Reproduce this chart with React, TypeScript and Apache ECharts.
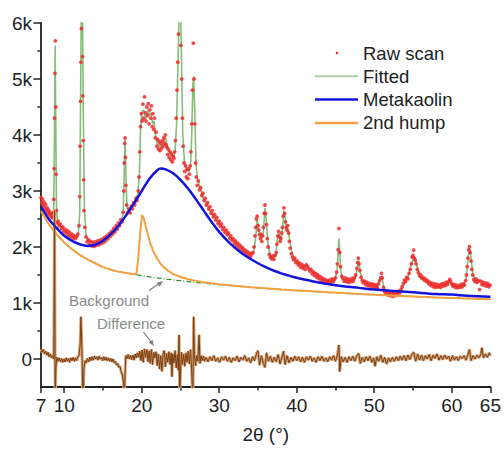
import React, { useEffect, useRef } from "react";
import * as echarts from "echarts";

const FONT = '"Liberation Sans", Arial, sans-serif';

const xTickValues = [7, 10, 20, 30, 40, 50, 60, 65];
const xMinorTicks = [15, 25, 35, 45, 55];
const yTickValues = [0, 1000, 2000, 3000, 4000, 5000, 6000];
const yMinorTicks = [500, 1500, 2500, 3500, 4500, 5500];

const rawScan: number[][] = [
  [7.0, 2880], [7.1, 2790], [7.2, 2850], [7.3, 2740], [7.4, 2800], [7.5, 2690], [7.6, 2760], [7.7, 2650], [7.8, 2700], [7.9, 2610],
  [8.0, 2660], [8.1, 2580], [8.2, 2620], [8.3, 2540], [8.4, 2590], [8.5, 2520], [8.6, 2610], [8.65, 2850], [8.7, 3400], [8.75, 4300],
  [8.8, 5100], [8.85, 5680], [8.9, 4500], [8.95, 3300], [9.0, 2650], [9.1, 2430], [9.2, 2460], [9.35, 2380], [9.5, 2410], [9.65, 2330],
  [9.8, 2360], [9.95, 2280], [10.1, 2320], [10.25, 2250], [10.4, 2290], [10.55, 2210], [10.7, 2260], [10.85, 2180], [11.0, 2230], [11.15, 2160],
  [11.3, 2200], [11.45, 2150], [11.6, 2190], [11.75, 2230], [11.9, 2380], [12.0, 2900], [12.05, 3800], [12.1, 4600], [12.15, 5300], [12.2, 5900],
  [12.25, 6200], [12.3, 6250], [12.35, 5400], [12.4, 4700], [12.45, 3900], [12.5, 3200], [12.55, 2650], [12.65, 2350], [12.8, 2180], [12.95, 2090],
  [13.1, 2130], [13.25, 2040], [13.4, 2100], [13.55, 2020], [13.7, 2080], [13.85, 2010], [14.0, 2090], [14.15, 2030], [14.3, 2110], [14.45, 2040],
  [14.6, 2120], [14.75, 2060], [14.9, 2140], [15.05, 2080], [15.2, 2170], [15.35, 2110], [15.5, 2200], [15.65, 2150], [15.8, 2240], [15.95, 2190],
  [16.1, 2280], [16.25, 2230], [16.4, 2330], [16.55, 2270], [16.7, 2380], [16.85, 2320], [17.0, 2430], [17.15, 2380], [17.3, 2490], [17.45, 2450],
  [17.6, 2620], [17.7, 3000], [17.75, 3500], [17.8, 3850], [17.85, 3950], [17.9, 3600], [17.95, 3100], [18.05, 2750], [18.2, 2620], [18.35, 2680],
  [18.5, 2610], [18.65, 2730], [18.8, 2680], [18.95, 2790], [19.1, 2750], [19.25, 2870], [19.4, 2830], [19.55, 3000], [19.65, 3250], [19.75, 3700],
  [19.85, 4150], [19.95, 4380], [20.05, 4250], [20.15, 4550], [20.25, 4300], [20.35, 4680], [20.45, 4400], [20.55, 4250], [20.65, 4500], [20.75, 4350],
  [20.85, 4560], [20.95, 4200], [21.05, 4450], [21.15, 4300], [21.25, 4520], [21.35, 4150], [21.45, 4380], [21.55, 4100], [21.65, 4300], [21.75, 3950],
  [21.85, 4050], [21.95, 3800], [22.05, 3920], [22.15, 3750], [22.25, 3880], [22.35, 3720], [22.45, 3850], [22.55, 3760], [22.65, 3900], [22.75, 3800],
  [22.85, 3950], [22.95, 3850], [23.05, 4000], [23.15, 3820], [23.25, 3780], [23.35, 3650], [23.45, 3740], [23.55, 3600], [23.65, 3700], [23.75, 3560],
  [23.85, 3660], [23.95, 3520], [24.05, 3620], [24.15, 3580], [24.25, 3700], [24.35, 3900], [24.45, 4300], [24.55, 4800], [24.65, 5300], [24.75, 5800],
  [24.85, 6300], [24.95, 6300], [25.05, 5600], [25.15, 5000], [25.25, 4300], [25.35, 3800], [25.45, 3500], [25.55, 3350], [25.65, 3450], [25.75, 3250],
  [25.85, 3380], [25.95, 3220], [26.05, 3400], [26.15, 3300], [26.25, 3450], [26.35, 3700], [26.45, 4200], [26.55, 4800], [26.65, 5640], [26.75, 5000],
  [26.85, 4200], [26.95, 3500], [27.05, 3250], [27.15, 3100], [27.3, 3180], [27.45, 3020], [27.6, 3060], [27.75, 2920], [27.9, 2960], [28.05, 2830],
  [28.2, 2870], [28.35, 2750], [28.5, 2790], [28.65, 2680], [28.8, 2720], [28.95, 2600], [29.1, 2650], [29.25, 2540], [29.4, 2580], [29.55, 2480],
  [29.7, 2530], [29.85, 2420], [30.0, 2460], [30.15, 2370], [30.3, 2410], [30.45, 2310], [30.6, 2350], [30.75, 2260], [30.9, 2300], [31.05, 2220],
  [31.2, 2250], [31.35, 2160], [31.5, 2200], [31.65, 2120], [31.8, 2150], [31.95, 2070], [32.1, 2110], [32.25, 2030], [32.4, 2070], [32.55, 1990],
  [32.7, 2030], [32.85, 1950], [33.0, 1990], [33.15, 1910], [33.3, 1950], [33.45, 1880], [33.6, 1920], [33.75, 1840], [33.9, 1890], [34.05, 1830],
  [34.2, 1880], [34.35, 1900], [34.5, 2000], [34.6, 2200], [34.7, 2350], [34.8, 2500], [34.9, 2550], [35.0, 2380], [35.1, 2300], [35.2, 2220],
  [35.3, 2150], [35.4, 2230], [35.5, 2100], [35.6, 2200], [35.7, 2350], [35.8, 2600], [35.9, 2750], [36.0, 2600], [36.1, 2400], [36.2, 2150],
  [36.3, 2000], [36.45, 1870], [36.6, 1820], [36.75, 1790], [36.9, 1840], [37.05, 1780], [37.2, 1850], [37.35, 1900], [37.45, 2050], [37.55, 2200],
  [37.65, 2280], [37.75, 2180], [37.85, 2100], [37.95, 2150], [38.05, 2250], [38.15, 2350], [38.25, 2550], [38.35, 2700], [38.45, 2600], [38.55, 2450],
  [38.65, 2350], [38.75, 2300], [38.85, 2380], [38.95, 2250], [39.05, 2100], [39.15, 1980], [39.3, 1880], [39.45, 1820], [39.6, 1770], [39.75, 1800],
  [39.9, 1720], [40.05, 1750], [40.2, 1680], [40.35, 1710], [40.5, 1640], [40.65, 1690], [40.8, 1620], [40.95, 1660], [41.1, 1600], [41.25, 1680],
  [41.4, 1650], [41.55, 1610], [41.7, 1570], [41.85, 1600], [42.0, 1520], [42.15, 1560], [42.3, 1490], [42.45, 1530], [42.6, 1460], [42.75, 1500],
  [42.9, 1430], [43.05, 1470], [43.2, 1400], [43.35, 1440], [43.5, 1380], [43.65, 1420], [43.8, 1360], [43.95, 1400], [44.1, 1350], [44.25, 1410],
  [44.4, 1370], [44.55, 1430], [44.7, 1380], [44.85, 1420], [45.0, 1450], [45.15, 1550], [45.25, 1700], [45.35, 1950], [45.45, 2330], [45.55, 1900],
  [45.65, 1650], [45.8, 1480], [45.95, 1440], [46.1, 1390], [46.25, 1450], [46.4, 1380], [46.55, 1430], [46.7, 1370], [46.85, 1420], [47.0, 1380],
  [47.15, 1440], [47.3, 1390], [47.45, 1450], [47.6, 1500], [47.75, 1620], [47.85, 1720], [47.95, 1800], [48.05, 1700], [48.15, 1580], [48.3, 1460],
  [48.45, 1400], [48.6, 1360], [48.75, 1390], [48.9, 1330], [49.05, 1370], [49.2, 1310], [49.35, 1350], [49.5, 1300], [49.65, 1340], [49.8, 1290],
  [49.95, 1330], [50.1, 1280], [50.25, 1320], [50.4, 1270], [50.55, 1340], [50.7, 1400], [50.85, 1450], [50.95, 1530], [51.05, 1450], [51.2, 1280],
  [51.35, 1200], [51.5, 1170], [51.65, 1210], [51.8, 1140], [51.95, 1190], [52.1, 1130], [52.25, 1180], [52.4, 1120], [52.55, 1170], [52.7, 1130],
  [52.85, 1190], [53.0, 1150], [53.15, 1210], [53.3, 1180], [53.45, 1240], [53.6, 1290], [53.75, 1350], [53.9, 1410], [54.05, 1380], [54.2, 1460],
  [54.35, 1430], [54.5, 1530], [54.65, 1600], [54.8, 1700], [54.9, 1820], [55.0, 1850], [55.1, 1946], [55.2, 1800], [55.3, 1760], [55.4, 1700],
  [55.55, 1600], [55.7, 1540], [55.85, 1480], [56.0, 1500], [56.15, 1440], [56.3, 1460], [56.45, 1410], [56.6, 1430], [56.75, 1380], [56.9, 1400],
  [57.05, 1340], [57.2, 1370], [57.35, 1310], [57.5, 1350], [57.65, 1290], [57.8, 1340], [57.95, 1280], [58.1, 1330], [58.25, 1290], [58.4, 1320],
  [58.55, 1280], [58.7, 1340], [58.85, 1300], [59.0, 1350], [59.15, 1310], [59.3, 1370], [59.45, 1330], [59.6, 1380], [59.75, 1420], [59.85, 1390],
  [60.0, 1340], [60.15, 1300], [60.3, 1330], [60.45, 1280], [60.6, 1320], [60.75, 1270], [60.9, 1310], [61.05, 1280], [61.2, 1330], [61.35, 1290],
  [61.5, 1340], [61.65, 1320], [61.8, 1400], [61.9, 1500], [62.0, 1650], [62.1, 1800], [62.2, 1950], [62.3, 2005], [62.4, 1900], [62.5, 1750],
  [62.6, 1600], [62.7, 1500], [62.85, 1420], [63.0, 1380], [63.15, 1430], [63.3, 1370], [63.45, 1400], [63.6, 1240], [63.75, 1390], [63.9, 1330],
  [64.05, 1370], [64.2, 1320], [64.35, 1360], [64.5, 1300], [64.65, 1350], [64.8, 1290], [64.95, 1320],
];

const fitted: number[][] = [
  [7.0, 2820], [7.3, 2760], [7.6, 2700], [8.0, 2620], [8.3, 2560], [8.5, 2540], [8.65, 2700], [8.75, 4200], [8.83, 5600], [8.9, 4300],
  [9.0, 2700], [9.15, 2420], [9.5, 2370], [10.0, 2300], [10.5, 2240], [11.0, 2190], [11.5, 2170], [11.8, 2200], [12.0, 2600], [12.1, 4500],
  [12.2, 6300], [12.35, 6300], [12.45, 4500], [12.6, 2700], [12.8, 2250], [13.0, 2120], [13.5, 2080], [14.0, 2070], [14.5, 2080], [15.0, 2110],
  [15.5, 2160], [16.0, 2230], [16.5, 2300], [17.0, 2400], [17.4, 2480], [17.6, 2600], [17.75, 3400], [17.85, 3950], [17.95, 3300], [18.1, 2700],
  [18.4, 2640], [18.8, 2720], [19.2, 2840], [19.5, 2950], [19.7, 3300], [19.85, 4100], [20.0, 4400], [20.2, 4450], [20.4, 4350], [20.6, 4300],
  [20.8, 4450], [21.0, 4350], [21.2, 4400], [21.4, 4200], [21.6, 4250], [21.8, 3950], [22.0, 3850], [22.3, 3800], [22.6, 3820], [22.9, 3900],
  [23.1, 3950], [23.3, 3800], [23.6, 3700], [23.9, 3650], [24.1, 3600], [24.3, 3700], [24.5, 4200], [24.7, 5400], [24.85, 6400], [25.0, 6400],
  [25.15, 5200], [25.3, 4000], [25.5, 3550], [25.8, 3380], [26.1, 3350], [26.3, 3450], [26.45, 4000], [26.6, 4900], [26.7, 5050], [26.85, 4400],
  [27.0, 3500], [27.2, 3200], [27.5, 3080], [28.0, 2850], [28.5, 2720], [29.0, 2600], [29.5, 2520], [30.0, 2420], [30.5, 2320], [31.0, 2250],
  [31.5, 2170], [32.0, 2100], [32.5, 2040], [33.0, 1980], [33.5, 1920], [34.0, 1870], [34.4, 1880], [34.7, 2150], [34.9, 2480], [35.1, 2300],
  [35.3, 2200], [35.5, 2150], [35.7, 2250], [35.9, 2700], [36.05, 2500], [36.3, 2050], [36.6, 1830], [37.0, 1800], [37.3, 1850], [37.5, 2150],
  [37.7, 2250], [37.9, 2100], [38.1, 2200], [38.35, 2650], [38.5, 2550], [38.7, 2300], [38.9, 2330], [39.1, 2100], [39.4, 1900], [39.7, 1780],
  [40.0, 1720], [40.5, 1680], [41.0, 1640], [41.4, 1660], [41.8, 1580], [42.3, 1520], [42.8, 1480], [43.3, 1430], [43.8, 1400], [44.3, 1390],
  [44.8, 1400], [45.2, 1550], [45.45, 2150], [45.7, 1550], [46.0, 1430], [46.5, 1400], [47.0, 1390], [47.5, 1420], [47.8, 1600], [48.0, 1760],
  [48.2, 1550], [48.5, 1400], [49.0, 1360], [49.5, 1330], [50.0, 1320], [50.5, 1300], [50.8, 1450], [51.0, 1480], [51.2, 1300], [51.6, 1200],
  [52.0, 1170], [52.5, 1160], [53.0, 1170], [53.5, 1220], [54.0, 1380], [54.4, 1480], [54.8, 1700], [55.1, 1820], [55.4, 1720], [55.7, 1560],
  [56.0, 1470], [56.5, 1420], [57.0, 1370], [57.5, 1330], [58.0, 1310], [58.5, 1300], [59.0, 1320], [59.5, 1340], [59.8, 1400], [60.1, 1330],
  [60.5, 1300], [61.0, 1290], [61.5, 1300], [61.9, 1450], [62.1, 1800], [62.3, 1980], [62.5, 1800], [62.7, 1550], [63.0, 1420], [63.5, 1390],
  [64.0, 1350], [64.5, 1330], [65.0, 1310],
];

const metakaolin: number[][] = [
  [7, 2720], [8, 2500], [9, 2340], [10, 2200], [11, 2110], [12, 2050], [13, 2020], [14, 2040], [15, 2110], [16, 2230],
  [17, 2380], [18, 2570], [19, 2780], [20, 3000], [21, 3220], [22, 3370], [22.5, 3400], [23, 3390], [24, 3320], [25, 3200],
  [26, 3040], [27, 2850], [28, 2650], [29, 2450], [30, 2270], [31, 2120], [32, 1990], [33, 1880], [34, 1790], [35, 1710],
  [36, 1640], [37, 1580], [38, 1530], [40, 1450], [42, 1390], [44, 1340], [46, 1300], [48, 1270], [50, 1240], [52, 1220],
  [55, 1190], [58, 1160], [60, 1150], [62, 1130], [65, 1110],
];

const secondHump: number[][] = [
  [7, 2640], [8, 2410], [9, 2230], [10, 2080], [11, 1960], [12, 1860], [13, 1780], [14, 1710], [15, 1640], [16, 1595],
  [17, 1560], [18, 1535], [19, 1515], [19.3, 1508], [19.55, 1800], [19.8, 2250], [20.05, 2570], [20.25, 2520], [20.5, 2380], [20.8, 2220],
  [21.1, 2070], [21.5, 1920], [22, 1790], [22.5, 1690], [23, 1620], [23.5, 1565], [24, 1525], [25, 1465], [26, 1425], [27, 1395],
  [28, 1372], [29, 1352], [30, 1336], [32, 1308], [34, 1283], [36, 1262], [38, 1243], [40, 1225], [42, 1208], [44, 1192],
  [46, 1177], [48, 1162], [50, 1148], [52, 1136], [55, 1118], [58, 1100], [61, 1085], [65, 1065],
];

const background: number[][] = [
  [7, 2640], [8, 2410], [9, 2230], [10, 2080], [11, 1960], [12, 1860], [13, 1780], [14, 1710], [15, 1640], [16, 1595],
  [17, 1560], [18, 1535], [19, 1515], [20, 1490], [21, 1468], [22, 1448], [23, 1430], [24, 1413], [25, 1398], [26, 1383],
  [27, 1368], [28, 1354], [29, 1341], [30, 1328], [32, 1304], [34, 1281], [36, 1260], [38, 1241], [40, 1223], [42, 1206],
  [44, 1190], [46, 1175], [48, 1160], [50, 1147], [52, 1135], [55, 1117], [58, 1100], [61, 1085], [65, 1064],
];

const difference: number[][] = [
  [7.0, 180], [7.15, 120], [7.3, 170], [7.45, 90], [7.6, 140], [7.75, 70], [7.9, 120], [8.05, 40], [8.2, 90], [8.35, 20],
  [8.5, 60], [8.65, 0], [8.75, 2650], [8.83, -800], [8.92, -150], [9.05, 30], [9.2, -40], [9.35, 20], [9.5, -50], [9.65, 10],
  [9.8, -60], [9.95, 0], [10.1, -50], [10.25, 20], [10.4, -40], [10.55, 10], [10.7, -60], [10.85, 20], [11.0, -30], [11.15, 30],
  [11.3, -40], [11.45, 20], [11.6, -30], [11.75, 40], [11.9, 60], [12.05, 250], [12.15, 755], [12.28, 200], [12.42, -800], [12.55, -150],
  [12.7, -30], [12.85, -70], [13.0, 10], [13.15, -50], [13.3, 30], [13.45, -30], [13.6, 40], [13.75, -20], [13.9, 50], [14.05, 0],
  [14.2, 40], [14.35, -20], [14.5, 50], [14.65, 0], [14.8, 30], [14.95, -30], [15.1, 40], [15.25, -20], [15.4, 30], [15.55, -30],
  [15.7, 20], [15.85, -40], [16.0, 10], [16.15, -50], [16.3, 0], [16.45, -70], [16.6, -40], [16.75, -110], [16.9, -80], [17.05, -150],
  [17.2, -130], [17.35, -230], [17.5, -280], [17.65, -420], [17.75, -800], [17.85, -250], [17.95, 60], [18.1, 10], [18.25, 80], [18.4, 0],
  [18.55, 60], [18.7, -10], [18.85, 70], [19.0, -20], [19.15, 90], [19.3, 20], [19.45, 110], [19.6, 30], [19.75, 140], [19.9, -30],
  [20.05, 160], [20.2, -60], [20.35, 180], [20.5, 30], [20.65, 170], [20.8, -50], [20.95, 150], [21.1, -80], [21.25, 170], [21.4, -100],
  [21.55, 120], [21.7, 20], [21.85, 130], [22.0, -120], [22.15, 90], [22.3, -180], [22.45, 60], [22.6, -220], [22.75, 80], [22.9, 150],
  [23.05, -140], [23.2, 100], [23.35, -60], [23.5, 130], [23.65, -100], [23.8, 110], [23.9, -316], [24.0, 90], [24.15, -70], [24.3, 150],
  [24.45, -160], [24.6, 80], [24.72, -200], [24.82, 430], [24.9, -800], [25.0, -250], [25.12, 120], [25.25, -100], [25.4, 90], [25.55, -130],
  [25.7, 110], [25.85, -60], [26.0, 140], [26.15, -90], [26.3, 170], [26.45, -220], [26.6, -800], [26.7, 755], [26.8, 80], [26.95, -120],
  [27.1, 60], [27.25, -40], [27.4, 430], [27.52, -80], [27.65, 60], [27.8, -30], [27.95, 50], [28.1, -40], [28.3, 30], [28.55, -50],
  [28.8, 40], [29.05, -30], [29.3, 60], [29.55, -40], [29.8, 20], [30.05, -60], [30.3, 40], [30.55, -20], [30.8, 50], [31.05, -40],
  [31.3, 30], [31.55, -60], [31.8, 20], [32.05, -30], [32.3, 50], [32.55, -50], [32.8, 30], [33.05, -20], [33.3, 60], [33.55, -40],
  [33.8, 20], [34.05, -70], [34.3, 40], [34.55, -30], [34.8, 90], [35.0, 150], [35.2, -110], [35.45, 60], [35.7, -80], [35.9, -150],
  [36.1, 110], [36.35, -40], [36.6, 50], [36.85, -60], [37.1, 30], [37.35, -50], [37.6, 80], [37.85, -90], [38.1, 40], [38.3, 140],
  [38.5, -100], [38.75, 60], [39.0, -70], [39.25, 30], [39.5, -40], [39.75, 50], [40.0, -30], [40.25, 40], [40.5, -50], [40.75, 30],
  [41.0, -60], [41.25, 40], [41.5, -20], [41.75, 50], [42.0, -40], [42.25, 20], [42.5, -60], [42.75, 40], [43.0, -30], [43.25, 50],
  [43.5, -40], [43.75, 20], [44.0, -50], [44.25, 40], [44.5, -20], [44.75, 60], [45.0, -40], [45.25, 70], [45.45, 250], [45.55, -227],
  [45.75, 40], [46.0, -50], [46.25, 30], [46.5, -60], [46.75, 40], [47.0, -30], [47.25, 50], [47.5, -40], [47.75, 60], [48.0, 100],
  [48.2, -80], [48.45, 30], [48.7, -50], [48.95, 40], [49.2, -30], [49.45, 50], [49.7, -60], [49.95, 20], [50.1, -130], [50.35, 40],
  [50.6, -40], [50.85, 70], [51.1, -60], [51.35, 30], [51.6, -90], [51.85, 20], [52.1, -50], [52.35, 30], [52.6, -40], [52.85, 40],
  [53.1, -30], [53.35, 50], [53.6, -20], [53.85, 60], [54.1, -30], [54.35, 70], [54.6, -10], [54.85, 80], [55.1, 120], [55.35, -40],
  [55.6, 90], [55.85, -20], [56.1, 70], [56.35, -30], [56.6, 60], [56.85, 0], [57.1, 80], [57.35, -30], [57.6, 70], [57.85, 10],
  [58.1, 90], [58.35, -20], [58.6, 60], [58.85, -10], [59.1, 70], [59.35, 0], [59.6, 50], [59.85, -40], [60.1, 60], [60.35, -20],
  [60.6, 40], [60.85, -30], [61.1, 50], [61.35, 10], [61.6, 60], [61.85, -20], [62.1, 80], [62.3, 170], [62.5, -30], [62.75, 60],
  [63.0, 0], [63.25, 70], [63.5, 20], [63.75, 80], [63.9, 200], [64.1, 20], [64.35, 90], [64.6, 30], [64.85, 110], [65.0, 60],
];

const legendItems = [
  { name: "Raw scan", kind: "dot", color: "#e83030" },
  { name: "Fitted", kind: "line", color: "#a9d1a0" },
  { name: "Metakaolin", kind: "line", color: "#1414dc" },
  { name: "2nd hump", kind: "line", color: "#f4a040" },
];

export default function App() {
  const ref = useRef<HTMLDivElement>(null);
  useEffect(() => {
    if (!ref.current) return;
    const chart = echarts.init(ref.current, undefined, { renderer: "svg" });
    const axisColor = "#222";
    const legendGraphics: any[] = [];
    legendItems.forEach((it, i) => {
      const y = 53 + i * 23.3;
      if (it.kind === "dot") {
        legendGraphics.push({ type: "circle", shape: { cx: 337, cy: y, r: 1.3 }, style: { fill: it.color } });
      } else {
        legendGraphics.push({
          type: "line",
          shape: { x1: 315, y1: y, x2: 358, y2: y },
          style: { stroke: it.color, lineWidth: it.name === "Fitted" ? 2 : 2.5 },
        });
      }
      legendGraphics.push({
        type: "text",
        x: 363,
        y,
        style: { text: it.name, fontSize: 18.5, fontFamily: FONT, fill: "#222", verticalAlign: "middle", align: "left" },
      });
    });

    const annotations: any[] = [
      { type: "text", x: 69, y: 300, style: { text: "Background", fontSize: 15, fontFamily: FONT, fill: "#8a8a8a", verticalAlign: "middle" } },
      { type: "line", shape: { x1: 149, y1: 290.5, x2: 160, y2: 283 }, style: { stroke: "#808080", lineWidth: 1.2 } },
      { type: "polygon", shape: { points: [[163, 281], [159.8, 286.7], [156.8, 282.7]] }, style: { fill: "#808080" } },
      { type: "text", x: 97, y: 323, style: { text: "Difference", fontSize: 15, fontFamily: FONT, fill: "#8a8a8a", verticalAlign: "middle" } },
      { type: "line", shape: { x1: 143.5, y1: 332, x2: 151.5, y2: 342.5 }, style: { stroke: "#808080", lineWidth: 1.2 } },
      { type: "polygon", shape: { points: [[154, 346], [152.5, 339.7], [148.5, 342.6]] }, style: { fill: "#808080" } },
    ];

    chart.setOption({
      animation: false,
      backgroundColor: "#fff",
      grid: { left: 41, right: 11, top: 23, bottom: 66, containLabel: false },
      xAxis: [
        {
          type: "value",
          min: 7,
          max: 65,
          position: "bottom",
          axisLine: { show: true, onZero: false, lineStyle: { color: axisColor, width: 1.8 } },
          axisTick: { show: true, customValues: xTickValues, length: 6, lineStyle: { color: axisColor, width: 1.5 } },
          axisLabel: { customValues: xTickValues, fontSize: 19, fontFamily: FONT, color: "#222", margin: 9 },
          splitLine: { show: false },
          name: "2θ (°)",
          nameLocation: "middle",
          nameGap: 38,
          nameTextStyle: { fontSize: 19, fontFamily: FONT, color: "#222" },
        },
        {
          type: "value",
          min: 7,
          max: 65,
          position: "bottom",
          offset: 0,
          axisLine: { show: false, onZero: false },
          axisTick: { show: true, customValues: xMinorTicks, length: 3.5, lineStyle: { color: axisColor, width: 1.5 } },
          axisLabel: { show: false },
          splitLine: { show: false },
        },
      ],
      yAxis: [
        {
          type: "value",
          min: -500,
          max: 6000,
          position: "left",
          axisLine: { show: true, onZero: false, lineStyle: { color: axisColor, width: 1.8 } },
          axisTick: { show: true, customValues: yTickValues, length: 7.5, lineStyle: { color: axisColor, width: 1.5 } },
          axisLabel: {
            customValues: yTickValues,
            fontSize: 19,
            fontFamily: FONT,
            color: "#222",
            margin: 9,
            formatter: (v: number) => (v === 0 ? "0" : v / 1000 + "k"),
          },
          splitLine: { show: false },
        },
        {
          type: "value",
          min: -500,
          max: 6000,
          position: "left",
          offset: 0,
          axisLine: { show: false, onZero: false },
          axisTick: { show: true, customValues: yMinorTicks, length: 3.5, lineStyle: { color: axisColor, width: 1.5 } },
          axisLabel: { show: false },
          splitLine: { show: false },
        },
      ],
      series: [
        {
          name: "Background",
          type: "line",
          data: background,
          showSymbol: false,
          smooth: 0.3,
          lineStyle: { color: "#2f8f3a", width: 1.3, type: [5, 2, 1, 2] },
          z: 1,
        },
        {
          name: "Fitted",
          type: "line",
          data: fitted,
          showSymbol: false,
          lineStyle: { color: "#86bd7a", width: 1.6 },
          z: 2,
        },
        {
          name: "Raw scan",
          type: "scatter",
          data: rawScan,
          symbol: "circle",
          symbolSize: 3.8,
          itemStyle: { color: "#ee2a2a", opacity: 0.85 },
          z: 3,
        },
        {
          name: "2nd hump",
          type: "line",
          data: secondHump,
          showSymbol: false,
          lineStyle: { color: "#f4a040", width: 2 },
          z: 4,
        },
        {
          name: "Metakaolin",
          type: "line",
          data: metakaolin,
          showSymbol: false,
          smooth: 0.35,
          lineStyle: { color: "#1414dc", width: 2.5 },
          z: 5,
        },
        {
          name: "Difference halo",
          type: "line",
          data: difference,
          showSymbol: false,
          lineStyle: { color: "#d2a47c", width: 3 },
          z: 4,
        },
        {
          name: "Difference",
          type: "line",
          data: difference,
          showSymbol: false,
          lineStyle: { color: "#7d3f10", width: 1 },
          z: 5,
        },
      ],
      graphic: [...legendGraphics, ...annotations],
    });
    return () => chart.dispose();
  }, []);
  return <div ref={ref} style={{ position: "fixed", left: 0, top: 0, width: 504, height: 453 }} />;
}
